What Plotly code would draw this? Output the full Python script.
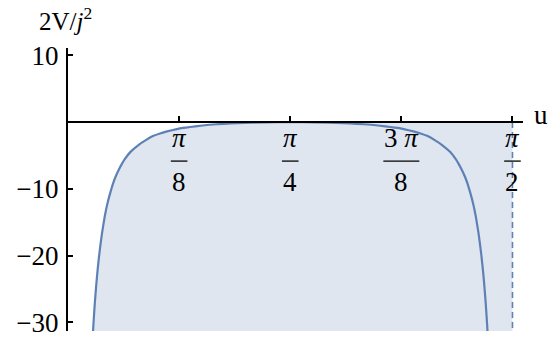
import numpy as np
import plotly.graph_objects as go

# values (u in radians, 2V/j^2)
u_vals = [0.080, 0.085, 0.090, 0.095, 0.100, 0.105, 0.110, 0.115, 0.120, 0.130,
          0.140, 0.150, 0.160, 0.170, 0.180, 0.190, 0.200, 0.220, 0.250, 0.275,
          0.300, 0.325, 0.350, 0.400, 0.450, 0.500, 0.550, 0.600, 0.700, 0.785,
          0.871, 0.971, 1.021, 1.071, 1.121, 1.171, 1.221, 1.246, 1.271, 1.296,
          1.321, 1.351, 1.371, 1.381, 1.391, 1.401, 1.411, 1.421, 1.431, 1.441,
          1.451, 1.456, 1.461, 1.466, 1.471, 1.476, 1.481, 1.486, 1.491]
v_vals = [-38.4, -33.9, -30.2, -27.0, -24.3, -22.0, -20.0, -18.3, -16.7, -14.1,
          -12.1, -10.5, -9.1, -8.0, -7.1, -6.3, -5.6, -4.5, -3.4, -2.7,
          -2.1, -1.7, -1.4, -0.9, -0.63, -0.4, -0.26, -0.15, -0.03, 0.0,
          -0.03, -0.15, -0.26, -0.4, -0.63, -0.9, -1.4, -1.7, -2.1, -2.7,
          -3.4, -4.5, -5.6, -6.3, -7.1, -8.0, -9.1, -10.5, -12.1, -14.1,
          -16.7, -18.3, -20.0, -22.0, -24.3, -27.0, -30.2, -33.9, -38.4]

asymptote_u = np.pi / 2
x_ticks = [np.pi / 8, np.pi / 4, 3 * np.pi / 8, np.pi / 2]
x_num = ["<i>π</i>", "<i>π</i>", "3 <i>π</i>", "<i>π</i>"]
x_den = ["8", "4", "8", "2"]
y_ticks = [10, -10, -20, -30]
y_labels = ["10", "−10", "−20", "−30"]

ymin, ymax = -31.3, 11.1
xmin, xmax = 0, 1.608

blue = "rgb(94,129,181)"
font = "Liberation Serif"
fs = 27

fig = go.Figure()

# filled region: under the left branch, then everything up to the axis on the right
i_mid = u_vals.index(0.785)
fx = [u_vals[0]] + u_vals[:i_mid + 1] + [asymptote_u, asymptote_u, u_vals[0]]
fy = [-40] + v_vals[:i_mid + 1] + [0, -40, -40]
fig.add_trace(go.Scatter(x=fx, y=fy, fill="toself", mode="none",
                         fillcolor="rgba(94,129,181,0.2)", hoverinfo="skip"))

fig.add_trace(go.Scatter(x=u_vals, y=v_vals, mode="lines",
                         line=dict(color=blue, width=2.2, shape="spline", smoothing=0.4)))

fig.add_trace(go.Scatter(x=[asymptote_u, asymptote_u], y=[0, -40], mode="lines",
                         line=dict(color=blue, width=1.6, dash="6px,4px")))

# fraction tick labels
for t, n, d in zip(x_ticks, x_num, x_den):
    fig.add_annotation(x=t, y=0, text=n, showarrow=False, yshift=-16,
                       font=dict(family=font, size=fs, color="black"))
    fig.add_annotation(x=t, y=0, text=d, showarrow=False, yshift=-60,
                       font=dict(family=font, size=fs, color="black"))
    w = 18 if n.startswith("3") else 8.3
    fig.add_shape(type="line", xref="x", yref="y", xsizemode="pixel", ysizemode="pixel",
                  xanchor=t, yanchor=0, x0=-w, x1=w, y0=-39, y1=-39,
                  line=dict(color="black", width=1.3))

fig.add_annotation(x=xmax, y=0, text="u", showarrow=False, xanchor="left", xshift=9,
                   yshift=7, font=dict(family=font, size=fs, color="black"))
fig.add_annotation(xref="paper", yref="paper", x=0, y=1.0, xshift=-3, yshift=11,
                   text="2V/<i>j</i><sup>2</sup>", showarrow=False,
                   xanchor="center", yanchor="bottom",
                   font=dict(family=font, size=25, color="black"))

fig.update_layout(
    width=550, height=341,
    margin=dict(l=68, r=27, t=48, b=10),
    plot_bgcolor="white", paper_bgcolor="white",
    showlegend=False,
    xaxis=dict(range=[xmin, xmax], showgrid=False, zeroline=False, automargin=False,
               showline=True, linecolor="black", linewidth=2,
               anchor="free", position=(0 - ymin) / (ymax - ymin),
               tickvals=x_ticks, ticks="inside", ticklen=5, tickwidth=2,
               tickcolor="black", showticklabels=False),
    yaxis=dict(range=[ymin, ymax], showgrid=False, zeroline=False, automargin=False,
               showline=True, linecolor="black", linewidth=2,
               tickvals=y_ticks, ticktext=y_labels, ticks="inside", ticklen=5,
               tickwidth=2, tickcolor="black", ticklabelstandoff=2,
               tickfont=dict(family=font, size=fs, color="black")),
)

# drop the page's default body margin so the figure sits at the top-left corner
fig.write_html("out.html", config={"displayModeBar": False},
               post_script="document.body.style.margin = '0';")
